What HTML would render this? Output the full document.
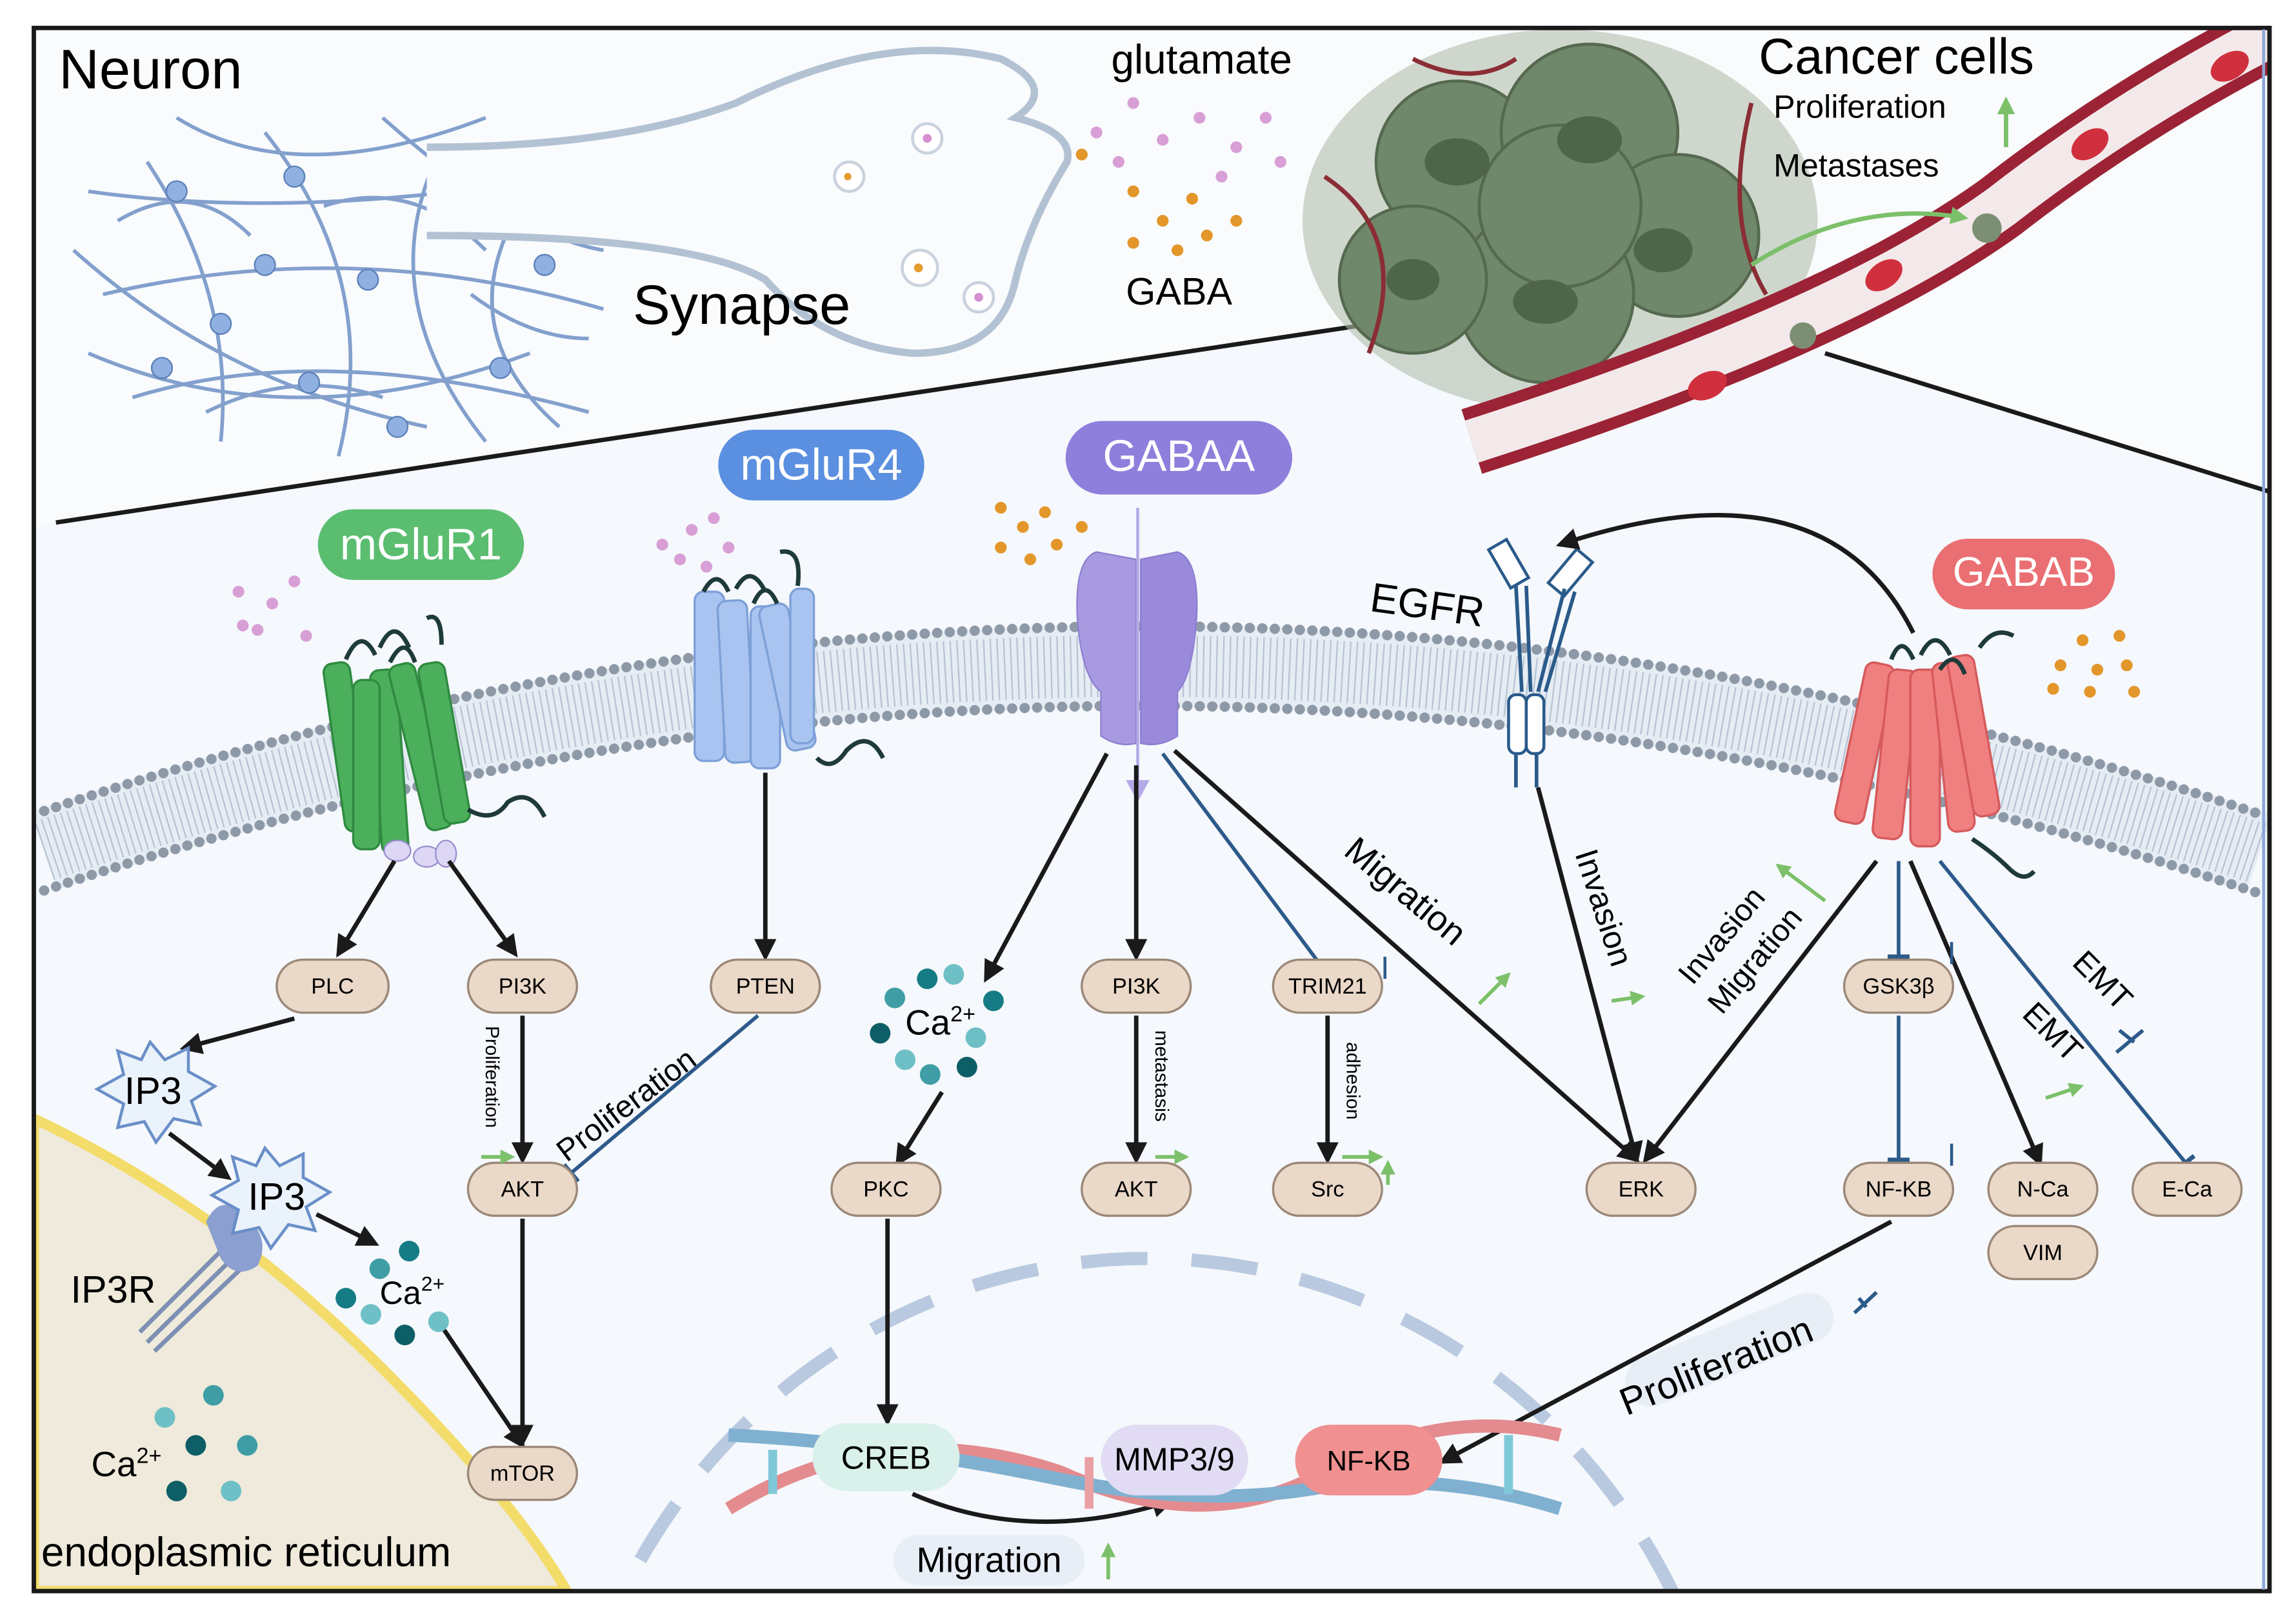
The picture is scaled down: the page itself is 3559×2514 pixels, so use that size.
<!DOCTYPE html>
<html><head><meta charset="utf-8"><style>
html,body{margin:0;padding:0;background:#fff;width:3559px;height:2514px;overflow:hidden}
svg{display:block}
text{font-family:"Liberation Sans",sans-serif}
</style></head><body>
<svg width="3559" height="2514" viewBox="0 0 1560 1102" preserveAspectRatio="none" xmlns="http://www.w3.org/2000/svg" style="overflow:hidden">
<defs>
<marker id="ah" viewBox="0 0 10 10" refX="8" refY="5" markerWidth="5" markerHeight="5" orient="auto"><path d="M0,0L10,5L0,10z" fill="#1a1a1a"/></marker>
<marker id="ag" viewBox="0 0 10 10" refX="8" refY="5" markerWidth="4" markerHeight="4" orient="auto"><path d="M0,0L10,5L0,10z" fill="#7cc06a"/></marker>
<marker id="tb" viewBox="0 0 4 20" refX="2" refY="10" markerWidth="3" markerHeight="6" orient="auto"><rect x="0" y="0" width="4" height="20" fill="#2d5a8a"/></marker>
<clipPath id="fr"><rect x="23" y="19" width="1519" height="1062"/></clipPath>
</defs>
<rect x="0" y="0" width="1560" height="1102" fill="#fff"/>
<g clip-path="url(#fr)">
<rect x="23" y="19" width="1519" height="1062" fill="#f5f8fc"/>
<path d="M23,19H1542V335L1240,240L985,212L38,355L23,357Z" fill="#f9fbfd"/>
<!-- ER -->
<path d="M23,760 Q150,820 260,930 Q350,1020 385,1081 H23Z" fill="#efeadb" stroke="#f3dc6a" stroke-width="7"/>
<!-- nucleus dashed -->
<ellipse cx="780" cy="1270" rx="400" ry="415" fill="none" stroke="#b9c9e0" stroke-width="9" stroke-dasharray="45 30"/>
<!-- membrane -->
<path d="M30,578 Q780,326 1535,580" fill="none" stroke="#e6ecf3" stroke-width="56"/>
<path d="M30,578 Q780,326 1535,580" fill="none" stroke="#b7c3d4" stroke-width="42" stroke-dasharray="1 3.5"/>
<path d="M30,551 Q780,299 1535,553" fill="none" stroke="#8e99a8" stroke-width="7" stroke-dasharray="0 8.5" stroke-linecap="round"/>
<path d="M30,605 Q780,353 1535,607" fill="none" stroke="#8e99a8" stroke-width="7" stroke-dasharray="0 8.5" stroke-linecap="round"/>
<line x1="38" y1="355" x2="985" y2="212" stroke="#1a1a1a" stroke-width="3"/>
<line x1="1240" y1="240" x2="1545" y2="335" stroke="#1a1a1a" stroke-width="3"/>
<!-- neurons -->
<g stroke="#6f8fc4" stroke-width="2.5" fill="none" opacity="0.85">
<path d="M60,130 Q200,150 380,120 M70,200 Q240,160 410,210 M90,270 Q220,230 400,280 M100,110 Q160,200 150,300 M180,90 Q260,190 230,310 M300,100 Q250,200 330,300 M360,130 Q300,220 380,290 M50,170 Q150,260 290,290 M120,80 Q200,130 330,80 M60,240 Q200,300 360,240 M260,80 Q350,160 410,170 M80,150 Q130,120 170,160 M220,140 Q280,120 330,170 M140,280 Q200,250 260,270 M320,200 Q360,230 400,230"/>
</g>
<g fill="#8fb0e0" stroke="#5b7fb8" stroke-width="1">
<circle cx="120" cy="130" r="7"/><circle cx="200" cy="120" r="7"/><circle cx="250" cy="190" r="7"/><circle cx="150" cy="220" r="7"/><circle cx="300" cy="150" r="7"/><circle cx="340" cy="250" r="7"/><circle cx="210" cy="260" r="7"/><circle cx="110" cy="250" r="7"/><circle cx="370" cy="180" r="7"/><circle cx="270" cy="290" r="7"/><circle cx="180" cy="180" r="7"/>
</g>
<!-- synapse -->
<path d="M290,100 Q420,100 500,70 Q600,20 680,40 Q720,60 690,80 Q730,90 725,110 Q700,150 690,190 Q680,240 620,240 Q560,235 520,190 Q470,160 290,160" fill="#f9fbfd" stroke="#b3c2d3" stroke-width="5"/>
<g stroke="#c9d2dd" stroke-width="2" fill="#fff"><circle cx="630" cy="94" r="10"/><circle cx="577" cy="120" r="10"/><circle cx="625" cy="182" r="12"/><circle cx="665" cy="202" r="10"/></g>
<g fill="#e69b2d"><circle cx="576" cy="120" r="2.5"/><circle cx="624" cy="182" r="3"/></g>
<g fill="#d58ed0"><circle cx="630" cy="94" r="3"/><circle cx="665" cy="202" r="3"/></g>
<g fill="#d89fd6"><circle cx="770" cy="70" r="4"/><circle cx="790" cy="95" r="4"/><circle cx="815" cy="80" r="4"/><circle cx="840" cy="100" r="4"/><circle cx="860" cy="80" r="4"/><circle cx="830" cy="120" r="4"/><circle cx="760" cy="110" r="4"/><circle cx="870" cy="110" r="4"/><circle cx="745" cy="90" r="4"/></g>
<g fill="#e3962a"><circle cx="770" cy="130" r="4"/><circle cx="790" cy="150" r="4"/><circle cx="810" cy="135" r="4"/><circle cx="820" cy="160" r="4"/><circle cx="840" cy="150" r="4"/><circle cx="800" cy="170" r="4"/><circle cx="770" cy="165" r="4"/><circle cx="735" cy="105" r="4"/></g>
<!-- tumor -->
<g>
<ellipse cx="1060" cy="150" rx="175" ry="130" fill="#b3c0ae" opacity="0.6"/>
<g fill="#6f876a" stroke="#55694f" stroke-width="2">
<circle cx="990" cy="110" r="55"/><circle cx="1080" cy="90" r="60"/><circle cx="1140" cy="160" r="55"/><circle cx="1050" cy="200" r="60"/><circle cx="960" cy="190" r="50"/><circle cx="1060" cy="140" r="55"/>
</g>
<g fill="#4e6549"><ellipse cx="990" cy="110" rx="22" ry="16"/><ellipse cx="1080" cy="95" rx="22" ry="16"/><ellipse cx="1130" cy="170" rx="20" ry="15"/><ellipse cx="1050" cy="205" rx="22" ry="15"/><ellipse cx="960" cy="190" rx="18" ry="14"/></g>
</g>
<!-- blood vessel -->
<path d="M1000,300 Q1250,220 1360,140 Q1450,70 1560,15" fill="none" stroke="#9b2335" stroke-width="46"/>
<path d="M1000,300 Q1250,220 1360,140 Q1450,70 1560,15" fill="none" stroke="#f4e9ea" stroke-width="30"/>
<g stroke="#8b2d35" stroke-width="3" fill="none"><path d="M900,120 Q960,160 930,240"/><path d="M1190,70 Q1170,150 1200,200"/><path d="M960,40 Q1000,60 1030,40"/></g>
<g fill="#d0303e"><ellipse cx="1280" cy="187" rx="14" ry="9" transform="rotate(-35 1280 187)"/><ellipse cx="1420" cy="98" rx="14" ry="9" transform="rotate(-35 1420 98)"/><ellipse cx="1515" cy="45" rx="14" ry="9" transform="rotate(-30 1515 45)"/><ellipse cx="1160" cy="262" rx="14" ry="9" transform="rotate(-25 1160 262)"/></g>
<g fill="#7c8f74"><circle cx="1350" cy="155" r="10"/><circle cx="1225" cy="228" r="9"/></g>
<path d="M1190,180 Q1260,135 1335,148" fill="none" stroke="#7cc06a" stroke-width="3" marker-end="url(#ag)"/>
<line x1="1363" y1="100" x2="1363" y2="68" stroke="#7cc06a" stroke-width="3" marker-end="url(#ag)"/>
<text x="40" y="60" font-size="38">Neuron</text>
<text x="430" y="220" font-size="38">Synapse</text>
<text x="755" y="50" font-size="28">glutamate</text>
<text x="765" y="207" font-size="26">GABA</text>
<text x="1195" y="50" font-size="34">Cancer cells</text>
<text x="1205" y="80" font-size="22">Proliferation</text>
<text x="1205" y="120" font-size="22">Metastases</text>

<rect x="216" y="346" width="140" height="48" rx="24" fill="#5bbd70"/><text x="286" y="380" font-size="30" fill="#fff" text-anchor="middle">mGluR1</text>
<rect x="488" y="292" width="140" height="48" rx="24" fill="#5b8fe0"/><text x="558" y="326" font-size="30" fill="#fff" text-anchor="middle">mGluR4</text>
<rect x="724" y="286" width="154" height="50" rx="25" fill="#8f7fdc"/><text x="801" y="320" font-size="30" fill="#fff" text-anchor="middle">GABAA</text>
<rect x="1313" y="366" width="124" height="48" rx="24" fill="#ea6f72"/><text x="1375" y="398" font-size="28" fill="#fff" text-anchor="middle">GABAB</text>

<g fill="#d89fd6"><circle cx="162" cy="402" r="4"/><circle cx="185" cy="410" r="4"/><circle cx="175" cy="428" r="4"/><circle cx="200" cy="395" r="4"/><circle cx="208" cy="432" r="4"/><circle cx="165" cy="425" r="4"/><circle cx="450" cy="370" r="4"/><circle cx="470" cy="360" r="4"/><circle cx="485" cy="352" r="4"/><circle cx="462" cy="380" r="4"/><circle cx="480" cy="385" r="4"/><circle cx="495" cy="372" r="4"/></g>
<g fill="#e3962a"><circle cx="680" cy="345" r="4"/><circle cx="695" cy="358" r="4"/><circle cx="710" cy="348" r="4"/><circle cx="680" cy="372" r="4"/><circle cx="700" cy="380" r="4"/><circle cx="718" cy="370" r="4"/><circle cx="735" cy="358" r="4"/><circle cx="1415" cy="435" r="4"/><circle cx="1440" cy="432" r="4"/><circle cx="1400" cy="452" r="4"/><circle cx="1425" cy="455" r="4"/><circle cx="1445" cy="452" r="4"/><circle cx="1395" cy="468" r="4"/><circle cx="1420" cy="470" r="4"/><circle cx="1450" cy="470" r="4"/></g>

<!-- mGluR1 -->
<g fill="#4caf5c" stroke="#2f8a40" stroke-width="1.5">
<rect x="226" y="450" width="18" height="115" rx="6" transform="rotate(-8 235 500)"/>
<rect x="255" y="455" width="18" height="125" rx="6" transform="rotate(-4 264 510)"/>
<rect x="275" y="450" width="18" height="115" rx="6" transform="rotate(-14 284 500)"/>
<rect x="292" y="450" width="18" height="110" rx="6" transform="rotate(-10 300 500)"/>
<rect x="240" y="462" width="18" height="115" rx="6"/>
</g>
<path d="M235,448 Q245,425 255,445 M258,440 Q268,418 278,440 M265,450 Q275,430 282,450 M300,438 Q300,415 290,420" stroke="#1e3a3a" stroke-width="3" fill="none"/>
<path d="M318,550 Q335,560 345,545 Q360,535 370,555" stroke="#1e3a3a" stroke-width="3" fill="none"/>
<g fill="#ddd6f5" stroke="#9a8fcf"><ellipse cx="270" cy="578" rx="9" ry="7"/><ellipse cx="290" cy="582" rx="9" ry="7"/><ellipse cx="303" cy="580" rx="7" ry="9"/></g>
<!-- mGluR4 -->
<g fill="#a9c4f0" stroke="#7ea0d8" stroke-width="1.5">
<rect x="472" y="402" width="20" height="115" rx="6"/>
<rect x="490" y="408" width="20" height="110" rx="6" transform="rotate(-3 500 460)"/>
<rect x="510" y="412" width="20" height="110" rx="6"/>
<rect x="525" y="410" width="20" height="100" rx="6" transform="rotate(-12 535 460)"/>
<rect x="537" y="400" width="16" height="105" rx="6"/>
</g>
<path d="M478,402 Q487,385 495,402 M500,400 Q510,382 520,402 M512,410 Q520,392 528,410 M542,398 Q545,372 530,375" stroke="#1e3a3a" stroke-width="3" fill="none"/>
<path d="M555,515 Q565,525 575,510 Q590,495 600,515" stroke="#1e3a3a" stroke-width="3" fill="none"/>
<!-- GABAA -->
<path d="M745,375 Q730,380 732,420 Q735,460 748,470 L748,500 Q760,508 772,505 L772,380Z" fill="#a89ae0" stroke="#8d7ed0"/>
<path d="M800,375 Q815,380 813,420 Q810,460 800,470 L800,500 Q788,508 775,505 L775,380Z" fill="#9a8adb" stroke="#8d7ed0"/>
<line x1="773" y1="345" x2="773" y2="540" stroke="#b4a9e8" stroke-width="2"/>
<path d="M765,530 L773,545 L781,530Z" fill="#b4a9e8"/>
<!-- EGFR -->
<g fill="#fff" stroke="#2a5a8a" stroke-width="2">
<rect x="1018" y="368" width="14" height="30" transform="rotate(-30 1025 383)"/>
<rect x="1060" y="374" width="14" height="30" transform="rotate(40 1067 389)"/>
<rect x="1025" y="472" width="12" height="40" rx="5"/><rect x="1037" y="472" width="12" height="40" rx="5"/>
</g>
<path d="M1030,398 L1034,470 M1037,398 L1040,470 M1063,400 L1045,470 M1070,402 L1050,470 M1030,512 L1030,535 M1044,512 L1044,535" stroke="#2a5a8a" stroke-width="2.5"/>
<text x="930" y="415" font-size="28" transform="rotate(8 930 415)">EGFR</text>
<!-- GABAB -->
<g fill="#f07f80" stroke="#d55a5c" stroke-width="1.5">
<rect x="1258" y="450" width="20" height="110" rx="6" transform="rotate(12 1268 500)"/>
<rect x="1278" y="455" width="20" height="115" rx="6" transform="rotate(6 1288 510)"/>
<rect x="1298" y="455" width="20" height="120" rx="6"/>
<rect x="1318" y="450" width="18" height="115" rx="6" transform="rotate(-6 1327 505)"/>
<rect x="1332" y="445" width="18" height="110" rx="6" transform="rotate(-10 1340 500)"/>
</g>
<path d="M1285,448 Q1292,430 1300,448 M1305,445 Q1315,425 1325,445 M1318,455 Q1328,440 1335,458 M1345,440 Q1355,425 1368,432" stroke="#1e3a3a" stroke-width="3" fill="none"/>
<path d="M1340,570 Q1355,580 1365,590 Q1375,600 1382,592" stroke="#1e3a3a" stroke-width="3" fill="none"/>
<path d="M1300,430 Q1240,310 1060,370" fill="none" stroke="#1a1a1a" stroke-width="3" marker-end="url(#ah)"/>

<g stroke="#1a1a1a" stroke-width="3" fill="none" marker-end="url(#ah)">
<line x1="268" y1="585" x2="230" y2="648"/>
<line x1="305" y1="585" x2="350" y2="648"/>
<line x1="200" y1="692" x2="125" y2="712"/>
<line x1="115" y1="770" x2="155" y2="800"/>
<line x1="215" y1="825" x2="255" y2="845"/>
<line x1="298" y1="898" x2="355" y2="982"/>
<line x1="355" y1="690" x2="355" y2="788"/>
<line x1="355" y1="828" x2="355" y2="980"/>
<line x1="520" y1="525" x2="520" y2="650"/>
<line x1="752" y1="512" x2="670" y2="665"/>
<line x1="772" y1="520" x2="772" y2="650"/>
<line x1="798" y1="510" x2="1112" y2="788"/>
<line x1="640" y1="742" x2="610" y2="790"/>
<line x1="603" y1="828" x2="603" y2="966"/>
<line x1="772" y1="690" x2="772" y2="788"/>
<line x1="902" y1="690" x2="902" y2="788"/>
<line x1="1045" y1="535" x2="1112" y2="788"/>
<line x1="1275" y1="585" x2="1118" y2="788"/>
<line x1="1298" y1="585" x2="1386" y2="790"/>
<line x1="1285" y1="830" x2="980" y2="993"/>
<path d="M620,1015 Q700,1050 795,1020"/>
</g>
<g stroke="#2d5a8a" stroke-width="2.5" fill="none" marker-end="url(#tb)">
<line x1="515" y1="690" x2="388" y2="797"/>
<line x1="790" y1="512" x2="905" y2="666"/>
<line x1="1290" y1="585" x2="1290" y2="650"/>
<line x1="1290" y1="690" x2="1290" y2="788"/>
<line x1="1318" y1="585" x2="1485" y2="790"/>
</g>

<polygon points="102,708 112,720 128,712 128,728 146,738 130,748 136,764 118,760 106,776 98,762 80,766 84,750 66,740 84,730 80,714 96,720" fill="#eaf2fb" stroke="#6a8fc8" stroke-width="2"/>
<text x="104" y="750" font-size="26" text-anchor="middle">IP3</text>
<path d="M95,905 L160,840 M100,912 L165,848 M105,918 L170,856" stroke="#7d8fb3" stroke-width="3"/>
<path d="M140,830 Q150,810 165,825 Q185,840 175,860 Q160,870 150,855Z" fill="#8b9fd0"/>
<polygon points="180,780 190,792 206,784 206,800 224,810 208,820 214,836 196,832 184,848 176,834 158,838 162,822 144,812 162,802 158,786 174,792" fill="#eaf2fb" stroke="#6a8fc8" stroke-width="2"/>
<text x="188" y="822" font-size="26" text-anchor="middle">IP3</text>
<text x="48" y="885" font-size="26">IP3R</text>
<g><circle cx="258" cy="862" r="7" fill="#3f9ea5"/><circle cx="278" cy="850" r="7" fill="#157b84"/><circle cx="235" cy="882" r="7" fill="#157b84"/><circle cx="252" cy="893" r="7" fill="#6ec0c6"/><circle cx="275" cy="907" r="7" fill="#0d5e66"/><circle cx="298" cy="898" r="7" fill="#6ec0c6"/></g>
<text x="258" y="886" font-size="22">Ca<tspan font-size="14" dy="-9">2+</tspan></text>
<g><circle cx="145" cy="948" r="7" fill="#3f9ea5"/><circle cx="112" cy="963" r="7" fill="#6ec0c6"/><circle cx="133" cy="982" r="7" fill="#0d5e66"/><circle cx="168" cy="982" r="7" fill="#3f9ea5"/><circle cx="120" cy="1013" r="7" fill="#0d5e66"/><circle cx="157" cy="1013" r="7" fill="#6ec0c6"/></g>
<text x="62" y="1003" font-size="24">Ca<tspan font-size="15" dy="-9">2+</tspan></text>
<text x="28" y="1064" font-size="28">endoplasmic reticulum</text>
<g><circle cx="608" cy="678" r="7" fill="#3f9ea5"/><circle cx="630" cy="665" r="7" fill="#157b84"/><circle cx="648" cy="662" r="7" fill="#6ec0c6"/><circle cx="675" cy="680" r="7" fill="#157b84"/><circle cx="598" cy="702" r="7" fill="#0d5e66"/><circle cx="663" cy="705" r="7" fill="#6ec0c6"/><circle cx="615" cy="720" r="7" fill="#6ec0c6"/><circle cx="632" cy="730" r="7" fill="#3f9ea5"/><circle cx="657" cy="725" r="7" fill="#0d5e66"/></g>
<text x="615" y="703" font-size="24">Ca<tspan font-size="15" dy="-9">2+</tspan></text>

<g fill="#ead8c8" stroke="#9c8878" stroke-width="1.5">
<rect x="188" y="652" width="76" height="36" rx="18"/>
<rect x="318" y="652" width="74" height="36" rx="18"/>
<rect x="483" y="652" width="74" height="36" rx="18"/>
<rect x="735" y="652" width="74" height="36" rx="18"/>
<rect x="865" y="652" width="74" height="36" rx="18"/>
<rect x="1253" y="652" width="74" height="36" rx="18"/>
<rect x="318" y="790" width="74" height="36" rx="18"/>
<rect x="565" y="790" width="74" height="36" rx="18"/>
<rect x="735" y="790" width="74" height="36" rx="18"/>
<rect x="865" y="790" width="74" height="36" rx="18"/>
<rect x="1078" y="790" width="74" height="36" rx="18"/>
<rect x="1253" y="790" width="74" height="36" rx="18"/>
<rect x="1351" y="790" width="74" height="36" rx="18"/>
<rect x="1351" y="833" width="74" height="36" rx="18"/>
<rect x="1449" y="790" width="74" height="36" rx="18"/>
<rect x="318" y="983" width="74" height="36" rx="18"/>
</g>
<g font-size="15" text-anchor="middle">
<text x="226" y="675">PLC</text><text x="355" y="675">PI3K</text><text x="520" y="675">PTEN</text><text x="772" y="675">PI3K</text><text x="902" y="675">TRIM21</text><text x="1290" y="675">GSK3β</text>
<text x="355" y="813">AKT</text><text x="602" y="813">PKC</text><text x="772" y="813">AKT</text><text x="902" y="813">Src</text><text x="1115" y="813">ERK</text><text x="1290" y="813">NF-KB</text><text x="1388" y="813">N-Ca</text><text x="1388" y="856">VIM</text><text x="1486" y="813">E-Ca</text><text x="355" y="1006">mTOR</text>
</g>

<path d="M495,1025 Q600,960 720,1000 Q820,1045 900,1000 Q980,955 1060,975" fill="none" stroke="#e38b8e" stroke-width="9"/>
<path d="M495,975 Q600,980 720,1005 Q820,1025 900,1010 Q980,1000 1060,1025" fill="none" stroke="#7fb0d0" stroke-width="9"/>
<g stroke-width="6"><line x1="525" y1="985" x2="525" y2="1015" stroke="#7fc8d8"/><line x1="740" y1="990" x2="740" y2="1025" stroke="#e9a0a3"/><line x1="1025" y1="975" x2="1025" y2="1015" stroke="#7fc8d8"/></g>
<rect x="552" y="967" width="100" height="46" rx="23" fill="#d9f1ea"/><text x="602" y="998" font-size="22" text-anchor="middle">CREB</text>
<rect x="748" y="968" width="100" height="48" rx="24" fill="#e1dcf3"/><text x="798" y="999" font-size="22" text-anchor="middle">MMP3/9</text>
<rect x="880" y="968" width="100" height="48" rx="24" fill="#f09090"/><text x="930" y="999" font-size="19" text-anchor="middle">NF-KB</text>

<text x="330" y="697" font-size="13" transform="rotate(90 330 697)">Proliferation</text>
<text x="385" y="790" font-size="21" transform="rotate(-37 385 790)">Proliferation</text>
<text x="785" y="700" font-size="13" transform="rotate(90 785 700)">metastasis</text>
<text x="915" y="708" font-size="13" transform="rotate(90 915 708)">adhesion</text>
<text x="912" y="580" font-size="24" transform="rotate(40 912 580)">Migration</text>
<text x="1070" y="580" font-size="22" transform="rotate(72 1070 580)">Invasion</text>
<text x="1150" y="670" font-size="21" transform="rotate(-50 1150 670)">Invasion</text>
<text x="1170" y="690" font-size="21" transform="rotate(-50 1170 690)">Migration</text>
<text x="1373" y="690" font-size="22" transform="rotate(45 1373 690)">EMT</text>
<text x="1407" y="655" font-size="22" transform="rotate(45 1407 655)">EMT</text>
<rect x="1100" y="900" width="150" height="34" rx="17" fill="#e8eef6" transform="rotate(-22 1175 917)"/>
<text x="1105" y="962" font-size="26" transform="rotate(-22 1105 962)">Proliferation</text>
<rect x="607" y="1043" width="130" height="34" rx="17" fill="#e8eef6"/>
<text x="672" y="1068" font-size="24" text-anchor="middle">Migration</text>

<g stroke="#7cc06a" stroke-width="2.5" marker-end="url(#ag)">
<line x1="327" y1="786" x2="348" y2="786"/><line x1="785" y1="786" x2="806" y2="786"/><line x1="912" y1="786" x2="938" y2="786"/><line x1="943" y1="805" x2="943" y2="790"/>
<line x1="1005" y1="682" x2="1025" y2="662"/><line x1="1095" y1="680" x2="1116" y2="677"/><line x1="1240" y1="612" x2="1208" y2="588"/><line x1="1390" y1="746" x2="1414" y2="738"/><line x1="753" y1="1073" x2="753" y2="1050"/>
</g>
<g stroke="#2d5a8a" stroke-width="2"><line x1="941" y1="650" x2="941" y2="665"/><line x1="1326" y1="640" x2="1326" y2="655"/><line x1="1326" y1="777" x2="1326" y2="792"/></g>
<g stroke="#2d5a8a" stroke-width="2.5"><path d="M1440,700 L1450,708 M1438,715 L1456,700"/><path d="M1263,882 L1268,888 M1260,892 L1275,878"/></g>
</g>
<rect x="23" y="19" width="1519" height="1062" fill="none" stroke="#1a1a1a" stroke-width="3"/>
<line x1="1538" y1="20" x2="1538" y2="1080" stroke="#8aa8d8" stroke-width="2"/>
</svg>
</body></html>
